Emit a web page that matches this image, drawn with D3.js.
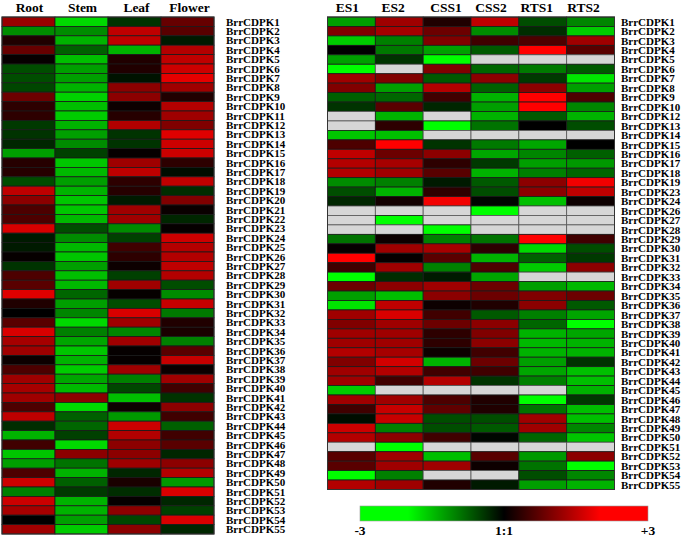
<!DOCTYPE html>
<html><head><meta charset="utf-8">
<script src="https://cdn.jsdelivr.net/npm/d3@7/dist/d3.min.js"></script>
<style>
html,body{margin:0;padding:0;background:#fff;}
svg text{font-family:"Liberation Serif","Times New Roman",serif;font-weight:bold;fill:#000;}
</style></head>
<body><svg id="chart" width="685" height="538"></svg>
<script>
// ---------- DATA ----------
const tissueCols = ["Root","Stem","Leaf","Flower"];
const tissueGenes = d3.range(1,56).map(i=>"BrrCDPK"+i);
const root   = [1.2,-1.1,0.25,0.8,0.05,-0.6,-0.6,-0.55,0.85,0.35,0.35,-0.45,-0.4,-0.3,-1.25,0.3,0.3,-0.6,1.5,1.1,0.6,0.6,1.7,-0.2,-0.2,0.05,-0.4,0.6,0.7,1.75,0.25,0.0,0.7,1.7,1.3,1.25,0.1,0.6,1.25,1.3,1.25,0.6,1.5,-0.35,-1.4,0.5,-1.55,-1.25,0.6,1.6,-1.0,1.6,1.3,0,1.25];
const stem   = [-1.7,-1.1,-1.4,-0.75,-1.5,-1.25,-1.25,-1.4,-1.65,-1.5,-1.6,-1.4,-1.25,-1.1,-0.5,-1.55,-1.45,-1.25,-1.4,-1.55,-1.55,-1.45,-0.6,-1.1,-1.45,-1.55,-1.25,-1.5,-1.45,-0.8,-1.25,-1.05,-1.7,-1.0,-1.3,-1.55,-1.4,-1.6,-1.3,-1.45,1.1,-1.7,-0.75,-0.8,-0.5,-1.7,1.1,-0.9,-1.4,-0.75,-0.45,-1.4,-1.4,-1.25,-1.6];
const leaf   = [-0.4,1.5,1.5,-1.4,0.25,0.25,-0.15,1.1,1.1,0.1,0.3,1.4,-0.4,-0.4,0.05,1.25,1.5,0.35,0.3,-0.2,1.25,1.25,-1.1,-0.5,0.5,0.35,0.1,-0.5,1.25,0.05,-0.6,1.7,1.25,-1.05,1.25,0.05,0.05,1.25,-1.0,-0.55,-1.5,0.1,-1.2,1.6,1.4,1.1,1.1,1.25,-0.3,0.2,-0.35,0.05,1.1,-0.55,1.1];
const flower = [0.8,0.7,-0.2,1.4,1.5,1.6,1.8,1.25,0.25,1.4,1.25,1.0,1.75,1.6,1.6,0.35,-0.1,1.5,-0.35,1.0,0.08,-0.3,0.05,1.6,1.4,1.4,1.5,1.4,-0.6,-1.1,1.55,-0.95,0.25,0.2,-1.0,0.7,1.55,0.08,1.25,0.5,-0.4,1.1,0.5,-0.75,0.5,0.7,-0.3,1.1,1.4,-1.2,1.7,-0.3,-0.5,1.7,-0.3];

const stressCols = ["ES1","ES2","CSS1","CSS2","RTS1","RTS2"];
const stressGenes = [1,2,3,4,5,6,7,8,9,10,12,13,14,15,16,17,18,19,23,24,26,27,28,29,30,31,32,33,34,35,36,37,38,39,40,41,42,43,44,45,46,47,48,49,50,51,52,53,54,55].map(i=>"BrrCDPK"+i);
const es1  = [-1.25,1.0,-1.6,0,-1.25,-2.4,1.25,1.0,-0.75,-0.4,null,null,-1.55,0.6,1.5,1.4,1.4,-1.1,-0.6,-0.3,null,null,null,-0.9,0.05,2.3,0.5,-2.4,0.85,-1.25,-1.8,1.25,1.0,1.25,1.25,1.4,1.0,1.25,1.25,-1.6,1.25,0.5,-0.1,1.6,1.4,null,0.7,0.7,-2.4,1.4];
const es2  = [1.25,1.3,-1.0,-0.95,-0.4,null,1.0,-1.25,-0.8,0.7,-1.4,0.35,-1.5,2.3,0.85,1.3,1.25,-1.0,-1.4,0.15,null,-2.4,null,0.1,1.25,0.05,1.25,-0.35,1.1,-1.5,1.5,1.7,1.25,1.25,1.25,1.3,1.65,1.4,0.5,null,1.25,1.55,1.55,-1.0,1.1,-2.4,1.25,1.25,-1.0,1.25];
const css1 = [0.25,0.85,1.0,-1.25,-2.5,1.0,-0.7,1.4,0.5,-0.3,null,-2.4,null,-0.4,1.1,0.35,0.7,-0.2,0.35,1.9,null,null,-2.4,-1.0,1.3,0.7,-1.0,-0.2,1.25,1.1,0.1,0.5,0.85,0.35,0.35,0.1,-1.4,0.5,1.4,null,0.6,0.75,-0.6,-0.6,0.5,null,-1.5,1.25,null,0.25];
const css2 = [1.5,-1.1,0.5,-0.7,null,-0.8,1.1,-0.75,-1.4,-1.25,-1.4,-0.9,null,-0.95,-1.3,-0.45,-1.4,-0.7,-0.6,-0.05,-2.4,null,null,-0.9,0.35,-1.4,0.6,-1.3,0.85,0.85,0.25,-0.7,1.1,1.0,1.1,0.5,0.85,0.5,-0.4,null,0.25,0.25,-0.6,-0.7,-0.05,null,0.7,0.1,null,-0.2];
const rts1 = [-0.6,-0.35,0.6,2.2,null,-0.95,-0.45,1.1,2.2,2.5,-0.7,0,null,-1.3,-1.05,-1.25,-1.0,1.1,1.1,-1.5,null,null,null,2.4,-1.7,-0.75,-1.6,null,-1.25,1.0,1.1,-1.0,-0.8,-1.4,-1.45,-1.4,-1.25,-1.3,-1.0,null,-2.4,-0.9,1.25,1.25,-0.8,null,-1.2,-0.9,-0.6,-1.25];
const rts2 = [-1.05,-1.6,1.25,0.7,null,-0.7,-1.8,-1.25,0.6,-1.05,-1.4,-0.6,null,0,-0.75,-1.2,-0.8,1.9,1.5,0.1,null,null,null,0.5,-0.6,-0.45,1.1,null,-1.45,0.85,-0.7,-1.3,-2.0,-1.3,-1.4,-1.4,-0.4,-1.5,-1.5,-1.4,-0.45,-1.5,-1.5,-1.05,-1.55,null,1.1,-2.2,-1.05,-1.4];

const legendTicks = [{v:-3,t:"-3"},{v:0,t:"1:1"},{v:3,t:"+3"}];

// ---------- SCALES ----------
const color = d3.scaleLinear().domain([-2,0,2]).range(["#00ff00","#000000","#ff0000"]).clamp(true);
const missing = "#d6d6d6";
const svg = d3.select("#chart");

function heatmap(cols, genes, series, x0, x1, y0, y1, labelX, headerOffsets){
  const x = d3.scaleBand().domain(cols).range([x0,x1]).padding(0);
  const y = d3.scaleBand().domain(genes).range([y0,y1]).padding(0);
  const cells = [];
  cols.forEach((c,ci)=>genes.forEach((g,gi)=>cells.push({c,g,v:series[ci][gi]})));
  const g = svg.append("g");
  g.selectAll("rect.cell").data(cells).join("rect")
    .attr("class","cell")
    .attr("x",d=>x(d.c)).attr("y",d=>y(d.g))
    .attr("width",x.bandwidth()).attr("height",y.bandwidth())
    .attr("fill",d=>d.v==null?missing:color(d.v))
    .attr("stroke",d=>d.v==null?"#555":"#1a1a1a").attr("stroke-width",0.8);
  g.append("rect").attr("x",x0).attr("y",y0).attr("width",x1-x0).attr("height",y1-y0)
    .attr("fill","none").attr("stroke","#333").attr("stroke-width",1);
  g.selectAll("text.hdr").data(cols).join("text").attr("class","hdr")
    .attr("x",(d,i)=>x(d)+x.bandwidth()/2+headerOffsets[i]).attr("y",12)
    .attr("text-anchor","middle").attr("font-size","13.5px").text(d=>d);
  g.selectAll("text.lbl").data(genes).join("text").attr("class","lbl")
    .attr("x",labelX).attr("y",d=>y(d)+y.bandwidth()/2)
    .attr("dy","0.36em").attr("font-size","11px").text(d=>d);
}

heatmap(tissueCols, tissueGenes, [root,stem,leaf,flower], 2, 214, 17, 534, 226, [1,1,2,2]);
heatmap(stressCols, stressGenes, [es1,es2,css1,css2,rts1,rts2], 327.5, 614.5, 17, 489.5, 621, [-4,-6,-1,-4,-6,-7]);

// ---------- LEGEND ----------
const lx = d3.scaleLinear().domain([-3,3]).range([360,648]);
const defs = svg.append("defs");
const grad = defs.append("linearGradient").attr("id","lg").attr("x1","0%").attr("x2","100%");
d3.range(-3,3.001,0.25).forEach(v=>{
  grad.append("stop").attr("offset",((v+3)/6*100)+"%").attr("stop-color",color(v));
});
svg.append("rect").attr("x",lx(-3)).attr("y",506).attr("width",lx(3)-lx(-3)).attr("height",15)
  .attr("fill","url(#lg)").attr("stroke","#999").attr("stroke-width",0.6);
svg.selectAll("text.lt").data(legendTicks).join("text").attr("class","lt")
  .attr("x",d=>lx(d.v)).attr("y",535).attr("text-anchor","middle").attr("font-size","13.5px").text(d=>d.t);
</script></body></html>
